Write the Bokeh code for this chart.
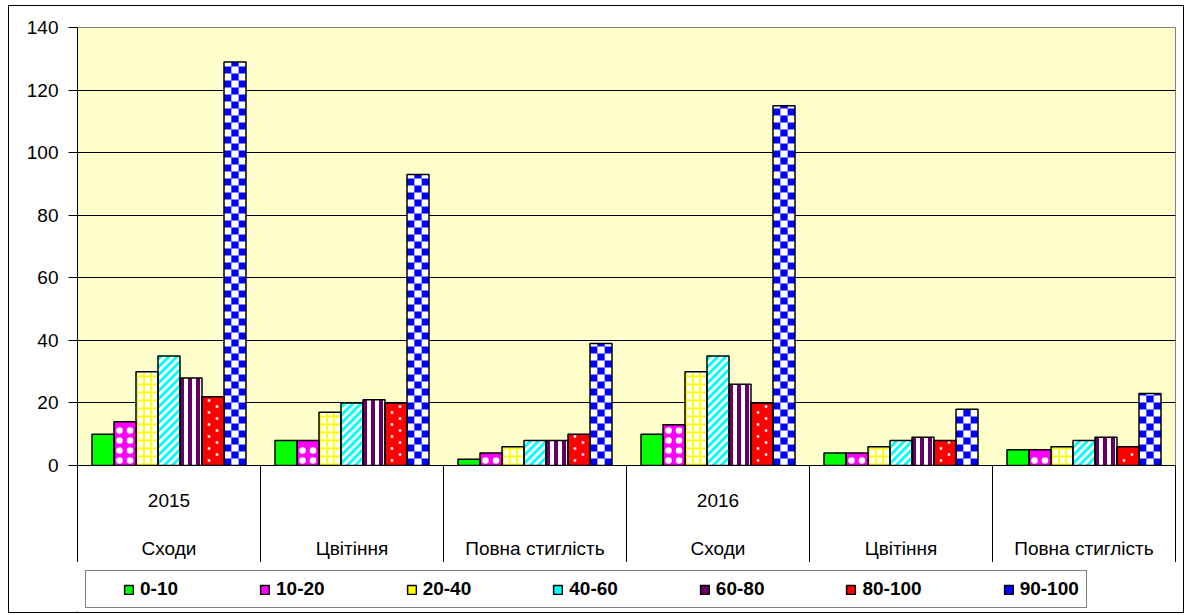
import math
from bokeh.plotting import figure
from bokeh.layouts import column
from bokeh.models import (ColumnDataSource, FixedTicker, LinearAxis, Range1d,
                          Legend, LegendItem)
from bokeh.embed import file_html
from bokeh.resources import INLINE

# ---------------- data ----------------
stages = ["Сходи", "Цвітіння", "Повна стиглість", "Сходи", "Цвітіння", "Повна стиглість"]
years = ["2015", "", "", "2016", "", ""]
series = ["0-10", "10-20", "20-40", "40-60", "60-80", "80-100", "90-100"]
v_0_10 = [10, 8, 2, 10, 4, 5]
v_10_20 = [14, 8, 4, 13, 4, 5]
v_20_40 = [30, 17, 6, 30, 6, 6]
v_40_60 = [35, 20, 8, 35, 8, 8]
v_60_80 = [28, 21, 8, 26, 9, 9]
v_80_100 = [22, 20, 10, 20, 8, 6]
v_90_100 = [129, 93, 39, 115, 18, 23]
y_ticks = [0, 20, 40, 60, 80, 100, 120, 140]
values = [v_0_10, v_10_20, v_20_40, v_40_60, v_60_80, v_80_100, v_90_100]

# ---------------- geometry / style ----------------
FRAME_W, FRAME_H = 1098, 438
X_MAX, Y_MAX = 6.0, 140.0
XPX = X_MAX / FRAME_W          # data units per screen pixel (x)
YPX = Y_MAX / FRAME_H          # data units per screen pixel (y)
BAR_PX = 22
BW = BAR_PX * XPX
base_colors = ["#00FF00", "#FF00FF", "#FFFFFF", "#FFFFFF", "#660066", "#FF0000", "#0000FF"]
legend_colors = ["#00FF00", "#FF00FF", "#FFFF00", "#00FFFF", "#660066", "#FF0000", "#0000FF"]

n_groups = len(stages)
n_series = len(series)

p = figure(width=1174, height=556, x_range=Range1d(0, X_MAX), y_range=Range1d(0, Y_MAX),
           output_backend="svg", toolbar_location=None, x_axis_location=None,
           min_border_left=68, min_border_right=8, min_border_top=21, min_border_bottom=97,
           background_fill_color="#FFFFCC", border_fill_color="white",
           outline_line_color="#808080")
p.xgrid.grid_line_color = None

# bar extents for each series, from the data
bars = []
for i, vals in enumerate(values):
    xs = [g + 0.5 + (i - (n_series - 1) / 2) * BW for g in range(n_groups)]
    bars.append([(x - BW / 2, x + BW / 2, v) for x, v in zip(xs, vals)])
    p.vbar(x=xs, top=vals, bottom=0, width=BW, fill_color=base_colors[i], line_color=None)

# ---- pattern overlays (computed from each bar's extent) ----
def q_cells(blist, cw, ch, pick):
    L, R, B, T = [], [], [], []
    for (l, r, top) in blist:
        hpx = top / YPX
        ncol = int(math.ceil(BAR_PX / cw))
        for row in range(int(math.ceil(hpx / ch))):
            for c in range(ncol):
                if pick(row, c):
                    L.append(l + c * cw * XPX)
                    R.append(min(l + (c + 1) * cw * XPX, r))
                    B.append(row * ch * YPX)
                    T.append(min((row + 1) * ch * YPX, top))
    return dict(left=L, right=R, bottom=B, top=T)

# 10-20: white round spots on magenta
mx, my = [], []
for (l, r, top) in bars[1]:
    hpx = top / YPX
    yy = 5.0
    while yy < hpx - 2:
        for xo in (5.5, 16.0):
            mx.append(l + xo * XPX)
            my.append(yy * YPX)
        yy += 10
p.scatter(mx, my, marker="circle", size=6.5, fill_color="white", line_color=None)

# 20-40: yellow grid on white
gx0, gy0, gx1, gy1 = [], [], [], []
for (l, r, top) in bars[2]:
    hpx = top / YPX
    for xo in (1.0, 8.0, 15.0):
        gx0.append(l + xo * XPX); gx1.append(l + xo * XPX); gy0.append(0); gy1.append(top)
    yy = 1.0
    while yy < hpx:
        gx0.append(l); gx1.append(r); gy0.append(yy * YPX); gy1.append(yy * YPX)
        yy += 8
p.segment(gx0, gy0, gx1, gy1, line_color="#FFFF00", line_width=2)

# 40-60: cyan diagonal stripes on white
dx0, dy0, dx1, dy1 = [], [], [], []
for (l, r, top) in bars[3]:
    hpx = top / YPX
    c = -BAR_PX
    while c < hpx:
        xs_ = max(0.0, -c)
        xe_ = min(float(BAR_PX), hpx - c)
        if xs_ < xe_:
            dx0.append(l + xs_ * XPX); dy0.append((xs_ + c) * YPX)
            dx1.append(l + xe_ * XPX); dy1.append((xe_ + c) * YPX)
        c += 8
p.segment(dx0, dy0, dx1, dy1, line_color="#00FFFF", line_width=3)

# 60-80: white vertical stripes on purple
p.quad(source=ColumnDataSource(q_cells(bars[4], 4, 10 ** 6, lambda row, c: c % 2 == 1)),
       left="left", right="right", bottom="bottom", top="top",
       fill_color="white", line_color=None)

# 80-100: small white dots on red
rx, ry = [], []
for (l, r, top) in bars[5]:
    hpx = top / YPX
    yy = 5.0
    k = 0
    while yy < hpx - 2:
        rx.append(l + (7.0 if k % 2 == 0 else 15.0) * XPX)
        ry.append(yy * YPX)
        yy += 6
        k += 1
p.scatter(rx, ry, marker="square", size=2.5, fill_color="white", line_color=None)

# 90-100: blue / white checker
p.quad(source=ColumnDataSource(q_cells(bars[6], 7.33, 7, lambda row, c: (row + c) % 2 == 1)),
       left="left", right="right", bottom="bottom", top="top",
       fill_color="white", line_color=None)

# bar outlines on top
for i, vals in enumerate(values):
    xs = [g + 0.5 + (i - (n_series - 1) / 2) * BW for g in range(n_groups)]
    p.vbar(x=xs, top=vals, bottom=0, width=BW, fill_color=None, line_color="black",
           line_width=1.5)

# y axis
ya = p.yaxis[0]
ya.ticker = FixedTicker(ticks=y_ticks, minor_ticks=[])
ya.major_tick_out = 9
ya.major_tick_in = 0
ya.major_tick_line_color = "black"
ya.axis_line_color = "black"
ya.major_label_standoff = 10
ya.major_label_text_font = "Liberation Sans"
ya.major_label_text_font_size = "19px"
ya.major_label_text_color = "black"
p.ygrid.grid_line_color = "black"
p.ygrid.grid_line_width = 1

# category axis: separators as minor ticks, two-row labels at group centres
labels = {g + 0.5: (years[g] if years[g] else " ") + "\n \n" + stages[g] for g in range(n_groups)}
axA = LinearAxis(ticker=FixedTicker(ticks=[g + 0.5 for g in range(n_groups)],
                                    minor_ticks=list(range(n_groups + 1))),
                 major_label_overrides=labels,
                 major_tick_out=0, major_tick_in=0, major_tick_line_color=None,
                 minor_tick_out=97, minor_tick_in=0,
                 minor_tick_line_color="black", axis_line_color="black",
                 major_label_standoff=-73, major_label_text_font="Liberation Sans",
                 major_label_text_font_size="19px", major_label_text_color="black",
                 major_label_text_line_height=1.16)
p.add_layout(axA, "below")

# ---------------- legend strip ----------------
q = figure(width=1174, height=50, x_range=Range1d(0, 1), y_range=Range1d(0, 1),
           output_backend="svg", toolbar_location=None,
           x_axis_location=None, y_axis_location=None,
           min_border=0, outline_line_color=None, background_fill_color="white",
           border_fill_color="white")
q.xgrid.visible = False
q.ygrid.visible = False
items = []
for name, col in zip(series, legend_colors):
    # legend swatch renderers: one point placed outside the visible range
    r = q.vbar(x=[-5], top=[-5], bottom=-6, width=0.1, fill_color=col, line_color="black",
               line_width=1.5)
    items.append(LegendItem(label=name, renderers=[r]))

legend = Legend(items=items, orientation="horizontal", location=(8, 4),
                border_line_color="black", border_line_width=1,
                label_text_font="Liberation Sans", label_text_font_style="bold",
                label_text_font_size="19px", label_text_color="black",
                glyph_width=11, glyph_height=11, label_standoff=6, spacing=81,
                padding=7, margin=0, title=" ", title_location="left",
                title_standoff=29, title_text_font_size="1px")
q.add_layout(legend, "center")

layout = column(p, q, spacing=0)
layout.styles = {"border": "1px solid black", "margin-left": "8px", "margin-top": "5px"}

open("out.html", "w").write(file_html(layout, INLINE))
